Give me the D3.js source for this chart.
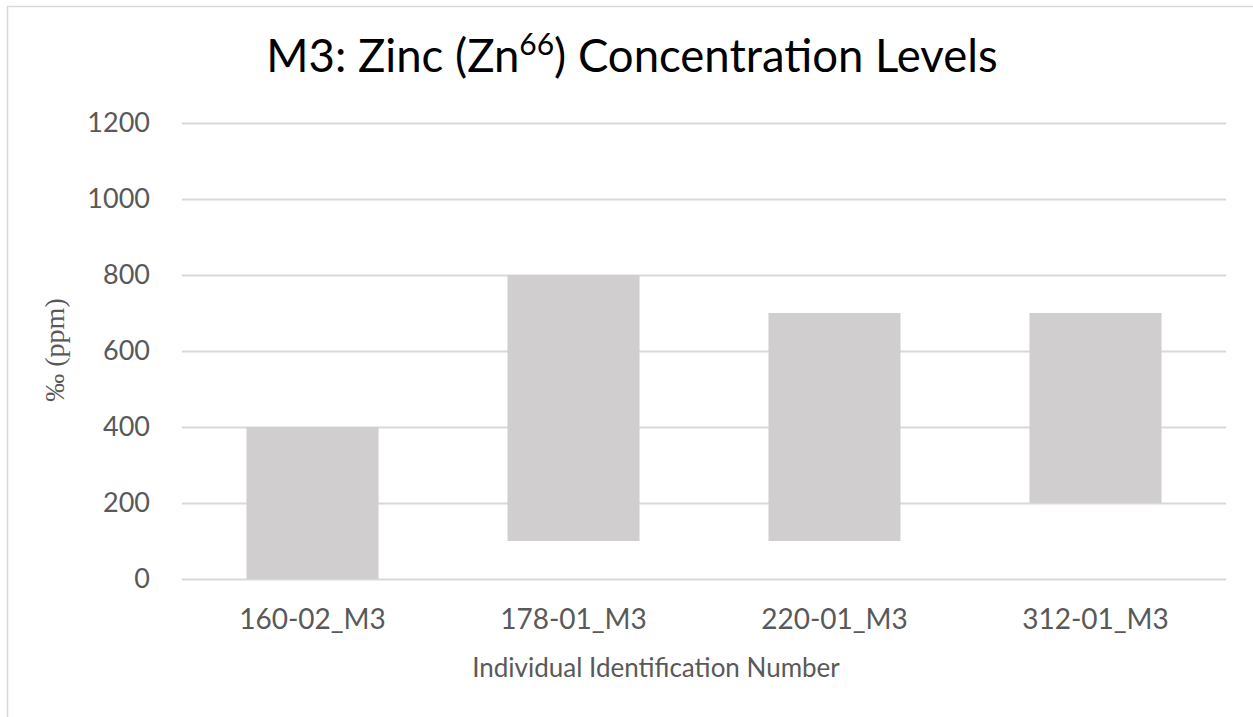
<!DOCTYPE html>
<html lang="en">
  <head>
    <meta charset="UTF-8" />
    <title>M3: Zinc Concentration Levels</title>
    <script src="https://d3js.org/d3.v7.min.js"></script>
    <style>
      body { margin: 0; background: #fff; }
      text { font-family: Lato, "Open Sans", sans-serif; }
    </style>
  </head>
  <body>
    <div id="chart"></div>
  </body>
</html>

<script>
  // floating bars: each sample goes from a low value up to a high value
  const categories = ["160-02_M3", "178-01_M3", "220-01_M3", "312-01_M3"]
  const lowValues = [0, 100, 100, 200]
  const highValues = [400, 800, 700, 700]
  const yTicks = [0, 200, 400, 600, 800, 1000, 1200]

  const width = 1253
  const height = 717
  const plotLeft = 182, plotRight = 1226, plotTop = 123, plotBottom = 579

  const svg = d3
    .select("#chart")
    .append("svg")
    .attr("width", width)
    .attr("height", height)

  // chart border (only top and left edges fall inside the picture)
  svg
    .append("rect")
    .attr("x", 7.5)
    .attr("y", 6.5)
    .attr("width", 1300)
    .attr("height", 800)
    .attr("fill", "#fff")
    .attr("stroke", "#d9d9d9")
    .attr("stroke-width", 1.5)

  const x = d3
    .scaleBand()
    .domain(categories)
    .range([plotLeft, plotRight])
    .paddingInner(0.494)
    .paddingOuter(0.247)

  const y = d3.scaleLinear().domain([0, 1200]).range([plotBottom, plotTop])

  // gridlines + y tick labels
  const yAxis = svg
    .append("g")
    .attr("transform", `translate(${plotLeft},0)`)
    .call(
      d3.axisLeft(y)
        .tickValues(yTicks)
        .tickFormat(d3.format("d"))
        .tickSize(-(plotRight - plotLeft))
        .tickPadding(32)
    )
  yAxis.select(".domain").remove()
  yAxis.selectAll("line").attr("stroke", "#d9d9d9").attr("stroke-width", 2)
  yAxis
    .selectAll("text")
    .attr("fill", "#595959")
    .style("font-size", "27px")

  // bars
  svg
    .append("g")
    .selectAll("rect")
    .data(categories)
    .join("rect")
    .attr("x", (d) => x(d))
    .attr("y", (d, i) => y(highValues[i]))
    .attr("width", x.bandwidth())
    .attr("height", (d, i) => y(lowValues[i]) - y(highValues[i]))
    .attr("fill", "#d0cece")

  // category labels
  const xAxis = svg
    .append("g")
    .attr("transform", `translate(0,${plotBottom})`)
    .call(d3.axisBottom(x).tickSize(0).tickPadding(30))
  xAxis.select(".domain").remove()
  xAxis
    .selectAll("text")
    .attr("fill", "#595959")
    .style("font-size", "28px")

  // axis titles
  svg
    .append("text")
    .attr("x", 656)
    .attr("y", 677)
    .attr("text-anchor", "middle")
    .attr("fill", "#595959")
    .style("font-size", "26px")
    .text("Individual Identification Number")

  svg
    .append("text")
    .attr("transform", "translate(64,350) rotate(-90)")
    .attr("text-anchor", "middle")
    .attr("fill", "#595959")
    .style("font-family", "'Liberation Serif', 'Times New Roman', serif")
    .style("font-size", "28px")
    .text("‰ (ppm)")

  // chart title with superscript
  const title = svg
    .append("text")
    .attr("x", 632)
    .attr("y", 72)
    .attr("text-anchor", "middle")
    .attr("fill", "#000")
    .style("font-size", "45.5px")
  title.append("tspan").text("M3: Zinc (Zn")
  title.append("tspan").attr("dy", -17).style("font-size", "30px").text("66")
  title.append("tspan").attr("dy", 17).text(") Concentration Levels")
</script>
